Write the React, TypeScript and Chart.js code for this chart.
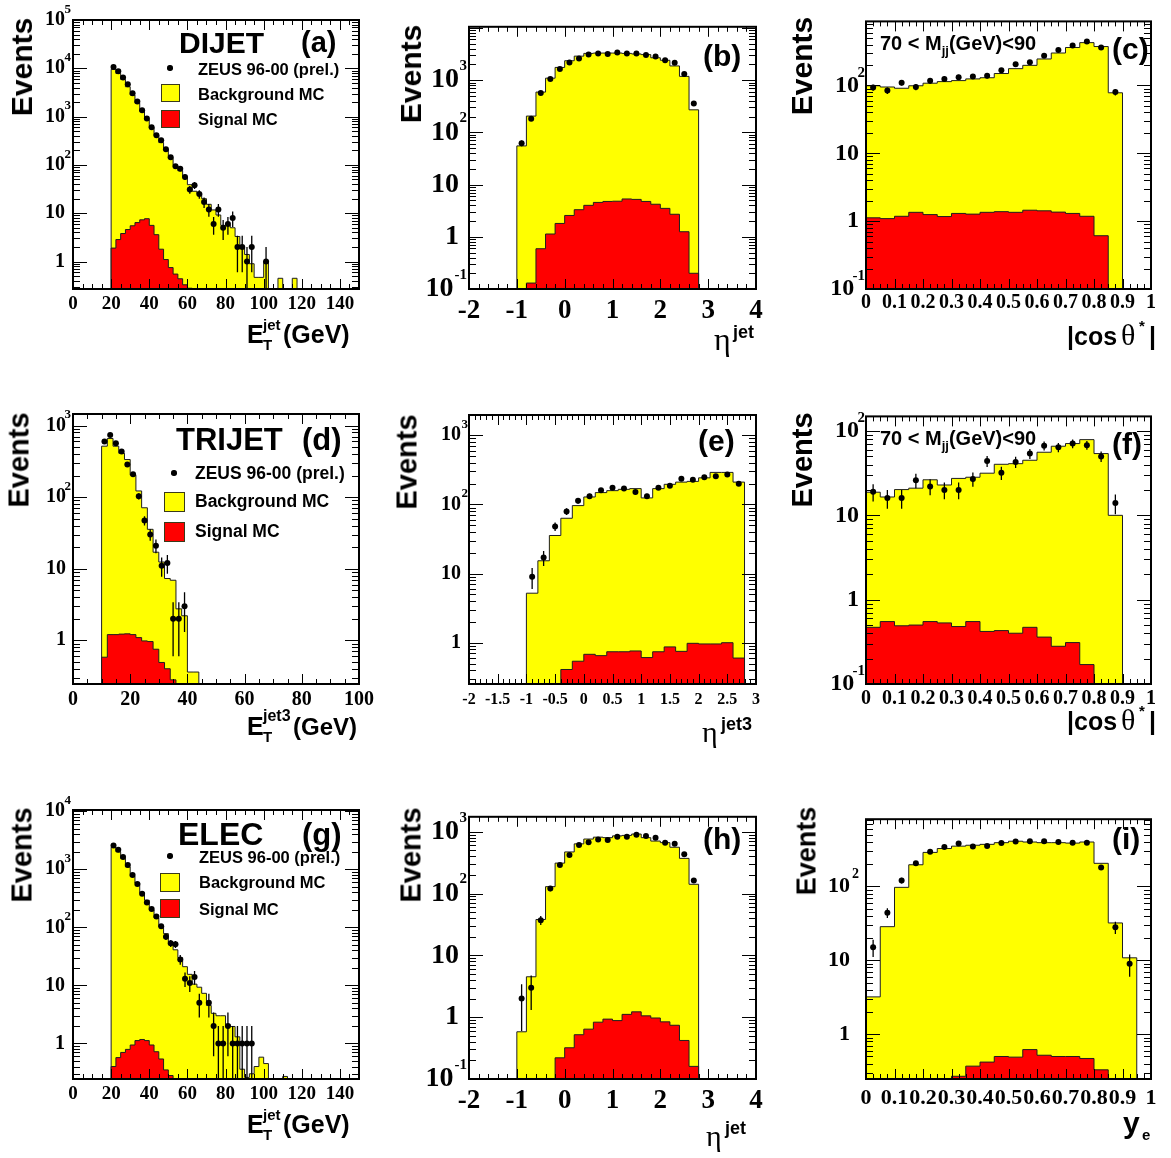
import React, { useEffect, useRef } from 'react';
import { Chart, registerables } from 'chart.js';

Chart.register(...registerables);

const SANS = '"Liberation Sans", Arial, Helvetica, sans-serif';
const SERIF = '"Liberation Serif", "Times New Roman", Times, serif';
const YELLOW = '#ffff00';
const RED = '#ff0000';
const OUTLINE = '#1e1e1e';

// ---------------- (a) DIJET, E_T^jet ----------------
const dijetEtBinStart = 20;
const dijetEtBinWidth = 2.5;
const dijetEtData = [10700, 8700, 6450, 4650, 3040, 2050, 1350, 910, 605, 410, 324, 212, 144, 94, 83, 56, 31, 38, 25, 17, 12, 6, 12, 5, 6, 8, 2, 2, 1, 2, 0, 0, 1];
const dijetEtErr = [103, 93, 80, 68, 55, 45, 37, 30, 25, 20, 18, 15, 12, 10, 9, 7.5, 5.6, 6.2, 5, 4.1, 3.5, 2.4, 3.5, 2.2, 2.4, 2.8, 1.4, 1.4, 1, 1.4, 0, 0, 1];
const dijetEtBackground = [9500, 7800, 5900, 4150, 2800, 1900, 1280, 870, 590, 410, 290, 203, 137, 97, 76, 56, 39, 28.5, 25.6, 20, 15.3, 11.7, 9.2, 5.6, 5.6, 5.0, 3.3, 2.0, 1.4, 0.9, 0.47, 0.47, 1.0, 0, 0, 0.45, 0, 0, 0.45];
const dijetEtSignal = [1.9, 2.85, 3.8, 4.6, 5.5, 6.4, 7.3, 7.7, 5.6, 3.6, 1.8, 1.1, 0.75, 0.55, 0.44, 0.33, 0.28];

// ---------------- (b) DIJET, eta^jet ----------------
const dijetEtaBinStart = -1;
const dijetEtaBinWidth = 0.2;
const dijetEtaData = [62, 182, 565, 1050, 1630, 2180, 2600, 3080, 3250, 3170, 3380, 3250, 3250, 3030, 2830, 2400, 2140, 1310, 358];
const dijetEtaErr = [7.9, 13.5, 24, 32, 40, 47, 51, 55, 57, 56, 58, 57, 57, 55, 53, 49, 46, 36, 19];
const dijetEtaBackground = [55, 205, 590, 1090, 1750, 2350, 2880, 3250, 3300, 3300, 3300, 3250, 3170, 3080, 2680, 2400, 1870, 1180, 270];
const dijetEtaSignal = [0, 0.13, 0.59, 1.13, 1.8, 2.56, 3.3, 4.0, 4.55, 4.75, 4.8, 5.3, 5.2, 4.75, 4.2, 3.5, 2.7, 1.25, 0.2];

// ---------------- (c) DIJET, |cos theta*| ----------------
const dijetCosBinStart = 0;
const dijetCosBinWidth = 0.05;
const dijetCosData = [93, 84, 110, 95, 117, 125, 132, 136, 139, 167, 205, 220, 275, 332, 390, 443, 363, 80];
const dijetCosErr = [9.6, 9.2, 10.5, 9.7, 10.8, 11.2, 11.5, 11.7, 11.8, 12.9, 14.3, 14.8, 16.6, 18.2, 19.7, 21, 19, 8.9];
const dijetCosBackground = [99, 95, 91, 99, 108, 114, 118, 125, 130, 150, 177, 198, 246, 301, 363, 428, 375, 78];
const dijetCosSignal = [1.12, 1.09, 1.18, 1.35, 1.25, 1.17, 1.3, 1.27, 1.35, 1.38, 1.35, 1.45, 1.42, 1.36, 1.3, 1.18, 0.61];

// ---------------- (d) TRIJET, E_T^jet3 ----------------
const trijetEtBinStart = 10;
const trijetEtBinWidth = 2;
const trijetEtData = [600, 740, 565, 435, 285, 208, 103, 47, 30, 21, 11, 12, 2, 2, 3];
const trijetEtErr = [24.5, 27, 24, 21, 17, 14.4, 10, 6.9, 5.5, 4.6, 3.3, 3.5, 1.4, 1.4, 1.7];
const trijetEtBackground = [515, 660, 515, 410, 335, 203, 122, 71, 35.5, 17, 12.4, 7.3, 6.9, 2.75, 2.2, 0.36, 0.36];
const trijetEtSignal = [0.58, 1.2, 1.2, 1.22, 1.23, 1.2, 1.09, 0.98, 0.96, 0.75, 0.49, 0.4, 0.28];

// ---------------- (e) TRIJET, eta^jet3 ----------------
const trijetEtaBinStart = -1;
const trijetEtaBinWidth = 0.2;
const trijetEtaData = [9, 17, 48, 79, 113, 131, 160, 174, 169, 151, 131, 174, 186, 234, 227, 246, 255, 270, 199];
const trijetEtaErr = [3, 4.1, 6.9, 8.9, 10.6, 11.4, 12.6, 13.2, 13, 12.3, 11.4, 13.2, 13.6, 15.3, 15.1, 15.7, 16, 16.4, 14.1];
const trijetEtaBackground = [5.2, 15.3, 35.5, 63, 96, 128, 148, 158, 165, 169, 124, 169, 195, 210, 215, 242, 290, 290, 210];
const trijetEtaSignal = [0, 0, 0, 0.41, 0.54, 0.68, 0.65, 0.74, 0.74, 0.76, 0.61, 0.74, 0.87, 0.75, 0.98, 0.96, 0.96, 1.0, 0.6];

// ---------------- (f) TRIJET, |cos theta*| ----------------
const trijetCosBinStart = 0;
const trijetCosBinWidth = 0.05;
const trijetCosData = [19, 16, 16, 26, 22, 20, 20, 27, 44, 32, 43, 54, 67, 64, 71, 68, 50, 14];
const trijetCosErr = [4.4, 4, 4, 5.1, 4.7, 4.5, 4.5, 5.2, 6.6, 5.7, 6.6, 7.3, 8.2, 8, 8.4, 8.2, 7.1, 3.7];
const trijetCosBackground = [18.8, 16.5, 20.2, 21, 26.4, 22.9, 27.4, 28.3, 31.6, 40.3, 41, 45, 56, 66, 71, 79, 54, 10];
const trijetCosSignal = [0.47, 0.55, 0.49, 0.5, 0.55, 0.53, 0.48, 0.55, 0.42, 0.43, 0.4, 0.47, 0.36, 0.28, 0.31, 0.17];

// ---------------- (g) ELEC, E_T^jet ----------------
const elecEtBinStart = 20;
const elecEtBinWidth = 2.5;
const elecEtData = [2570, 2170, 1630, 1180, 800, 560, 380, 267, 206, 153, 104, 69, 53, 51, 28, 13, 11, 14, 5, 0, 5, 2, 1, 1, 2, 1, 1, 1, 1, 1];
const elecEtErr = [51, 47, 40, 34, 28, 24, 19.5, 16.3, 14.4, 12.4, 10.2, 8.3, 7.3, 7.1, 5.3, 3.6, 3.3, 3.7, 2.2, 0, 2.2, 1.4, 1, 1, 1.4, 1, 1, 1, 1, 1];
const elecEtBackground = [2400, 2000, 1540, 1100, 755, 580, 395, 293, 200, 145, 104, 78, 55, 41, 30, 21, 15.5, 10.5, 9.3, 7.3, 4.5, 3.3, 3.0, 3.0, 2.1, 1.96, 1.3, 0.36, 0.26, 0.3, 0.4, 0.58, 0.45, 0, 0, 0, 0.27];
const elecEtSignal = [0.4, 0.57, 0.7, 0.79, 0.94, 1.12, 1.17, 1.12, 0.94, 0.72, 0.54, 0.35, 0.28];

// ---------------- (h) ELEC, eta^jet ----------------
const elecEtaBinStart = -1;
const elecEtaBinWidth = 0.2;
const elecEtaData = [2, 3, 37, 120, 290, 420, 610, 675, 745, 730, 825, 825, 895, 855, 795, 665, 635, 430, 162];
const elecEtaErr = [1.4, 1.7, 6.1, 11, 17, 20.5, 24.7, 26, 27.3, 27, 28.7, 28.7, 29.9, 29.2, 28.2, 25.8, 25.2, 20.7, 12.7];
const elecEtaBackground = [0.58, 4.5, 38, 129, 310, 470, 635, 760, 815, 800, 855, 870, 915, 800, 705, 665, 560, 370, 141];
const elecEtaSignal = [0, 0, 0, 0, 0.22, 0.32, 0.52, 0.64, 0.83, 0.93, 0.88, 1.11, 1.22, 1.05, 0.97, 0.84, 0.74, 0.42, 0.16];

// ---------------- (i) ELEC, y_e ----------------
const elecYBinStart = 0;
const elecYBinWidth = 0.05;
const elecYData = [15, 44, 120, 205, 295, 340, 380, 347, 352, 385, 405, 408, 408, 398, 390, 390, 180, 28, 9];
const elecYErr = [3.9, 6.6, 11, 14.3, 17.2, 18.4, 19.5, 18.6, 18.8, 19.6, 20.1, 20.2, 20.2, 20, 19.7, 19.7, 13.4, 5.3, 3];
const elecYBackground = [3.2, 28.5, 97, 196, 288, 325, 350, 360, 370, 390, 408, 398, 390, 390, 385, 398, 205, 32, 10.8];
const elecYSignal = [0, 0, 0, 0, 0, 0, 0.27, 0.37, 0.42, 0.5, 0.49, 0.62, 0.52, 0.5, 0.5, 0.47, 0.33];

// ---------------- tick labels ----------------
const etTicks = [0, 20, 40, 60, 80, 100, 120, 140];
const et3Ticks = [0, 20, 40, 60, 80, 100];
const etaTicks = [-2, -1, 0, 1, 2, 3, 4];
const eta3Ticks = [-2, -1.5, -1, -0.5, 0, 0.5, 1, 1.5, 2, 2.5, 3];
const unitTicks = [0, 0.1, 0.2, 0.3, 0.4, 0.5, 0.6, 0.7, 0.8, 0.9, 1];
const decadesA = [1, 10, 100, 1000, 10000, 100000];
const decadesB = [0.1, 1, 10, 100, 1000];
const decadesC = [0.1, 1, 10, 100];
const decadesD = [1, 10, 100, 1000];
const decadesG = [1, 10, 100, 1000, 10000];
const decadesI = [1, 10, 100];

type Cfg = {
  id: string;
  cell: number[];
  plot: number[];
  xMin: number; xMax: number; yMin: number; yMax: number;
  binStart: number; binWidth: number;
  data: number[]; err: number[]; bg: number[]; sig: number[];
  xTicks: number[]; xMinor: number; xFont: number; xPad: number;
  yTicks: number[]; yFont: number; yPad: number; expFont: number; expRight: number;
};

const COLS = [[0, 390], [390, 780], [780, 1171]];
const ROWS = [[0, 395], [395, 790], [790, 1158]];
const PLOT_X = [[73, 359], [469, 756], [866, 1151]];
const PLOT_Y = [[15, 289], [410, 684], [804, 1079]];

function cellOf(c: number, r: number) {
  return [COLS[c][0], ROWS[r][0], COLS[c][1], ROWS[r][1]];
}
function plotOf(c: number, r: number) {
  return [PLOT_X[c][0], PLOT_Y[r][0], PLOT_X[c][1], PLOT_Y[r][1]];
}

const panels: Cfg[] = [
  { id: 'a', cell: cellOf(0, 0), plot: plotOf(0, 0), xMin: 0, xMax: 150, yMin: 0.27, yMax: 1e5,
    binStart: dijetEtBinStart, binWidth: dijetEtBinWidth, data: dijetEtData, err: dijetEtErr, bg: dijetEtBackground, sig: dijetEtSignal,
    xTicks: etTicks, xMinor: 5, xFont: 19, xPad: 4, yTicks: decadesA, yFont: 20, yPad: 8, expFont: 13, expRight: 1 },
  { id: 'b', cell: cellOf(1, 0), plot: plotOf(1, 0), xMin: -2, xMax: 4, yMin: 0.1, yMax: 1.05e4,
    binStart: dijetEtaBinStart, binWidth: dijetEtaBinWidth, data: dijetEtaData, err: dijetEtaErr, bg: dijetEtaBackground, sig: dijetEtaSignal,
    xTicks: etaTicks, xMinor: 0.2, xFont: 27, xPad: 6, yTicks: decadesB, yFont: 28, yPad: 10, expFont: 15, expRight: 1 },
  { id: 'c', cell: cellOf(2, 0), plot: plotOf(2, 0), xMin: 0, xMax: 1, yMin: 0.1, yMax: 880,
    binStart: dijetCosBinStart, binWidth: dijetCosBinWidth, data: dijetCosData, err: dijetCosErr, bg: dijetCosBackground, sig: dijetCosSignal,
    xTicks: unitTicks, xMinor: 0.025, xFont: 20, xPad: 2, yTicks: decadesC, yFont: 24, yPad: 7, expFont: 15, expRight: 0 },
  { id: 'd', cell: cellOf(0, 1), plot: plotOf(0, 1), xMin: 0, xMax: 100, yMin: 0.245, yMax: 1450,
    binStart: trijetEtBinStart, binWidth: trijetEtBinWidth, data: trijetEtData, err: trijetEtErr, bg: trijetEtBackground, sig: trijetEtSignal,
    xTicks: et3Ticks, xMinor: 5, xFont: 20, xPad: 4, yTicks: decadesD, yFont: 20, yPad: 7, expFont: 13, expRight: 1 },
  { id: 'e', cell: cellOf(1, 1), plot: plotOf(1, 1), xMin: -2, xMax: 3, yMin: 0.253, yMax: 1960,
    binStart: trijetEtaBinStart, binWidth: trijetEtaBinWidth, data: trijetEtaData, err: trijetEtaErr, bg: trijetEtaBackground, sig: trijetEtaSignal,
    xTicks: eta3Ticks, xMinor: 0.1, xFont: 16, xPad: 6, yTicks: decadesD, yFont: 20, yPad: 8, expFont: 13, expRight: 0 },
  { id: 'f', cell: cellOf(2, 1), plot: plotOf(2, 1), xMin: 0, xMax: 1, yMin: 0.1, yMax: 149,
    binStart: trijetCosBinStart, binWidth: trijetCosBinWidth, data: trijetCosData, err: trijetCosErr, bg: trijetCosBackground, sig: trijetCosSignal,
    xTicks: unitTicks, xMinor: 0.025, xFont: 20, xPad: 3, yTicks: decadesC, yFont: 24, yPad: 7, expFont: 15, expRight: 0 },
  { id: 'g', cell: cellOf(0, 2), plot: plotOf(0, 2), xMin: 0, xMax: 150, yMin: 0.244, yMax: 1.05e4,
    binStart: elecEtBinStart, binWidth: elecEtBinWidth, data: elecEtData, err: elecEtErr, bg: elecEtBackground, sig: elecEtSignal,
    xTicks: etTicks, xMinor: 5, xFont: 19, xPad: 4, yTicks: decadesG, yFont: 20, yPad: 8, expFont: 13, expRight: 1 },
  { id: 'h', cell: cellOf(1, 2), plot: plotOf(1, 2), xMin: -2, xMax: 4, yMin: 0.1, yMax: 1740,
    binStart: elecEtaBinStart, binWidth: elecEtaBinWidth, data: elecEtaData, err: elecEtaErr, bg: elecEtaBackground, sig: elecEtaSignal,
    xTicks: etaTicks, xMinor: 0.2, xFont: 27, xPad: 6, yTicks: decadesB, yFont: 28, yPad: 10, expFont: 15, expRight: 1 },
  { id: 'i', cell: cellOf(2, 2), plot: plotOf(2, 2), xMin: 0, xMax: 1, yMin: 0.248, yMax: 810,
    binStart: elecYBinStart, binWidth: elecYBinWidth, data: elecYData, err: elecYErr, bg: elecYBackground, sig: elecYSignal,
    xTicks: unitTicks, xMinor: 0.025, xFont: 22, xPad: 6, yTicks: decadesI, yFont: 22, yPad: 16, expFont: 14, expRight: 6 },
];

function decadeExp(v: number) {
  return Math.round(Math.log10(v));
}
// mantissa part is the Chart.js tick label; the exponent is drawn by the rootAxes plugin
function decadeLabel(v: number) {
  const e = decadeExp(v);
  if (e === 0) return '1';
  if (e < 0) return '10\u2009';
  return '10';
}

function histogramPoints(start: number, width: number, values: number[], floor: number) {
  const pts = [{ x: start, y: floor }];
  values.forEach((v, i) => pts.push({ x: start + i * width, y: v > 0 ? v : floor }));
  const end = start + values.length * width;
  const last = values[values.length - 1];
  pts.push({ x: end, y: last > 0 ? last : floor });
  pts.push({ x: end, y: floor });
  return pts;
}

const rootAxesPlugin = {
  id: 'rootAxes',
  afterDraw(chart: any, _args: any, opts: any) {
    const { ctx, chartArea: a, scales } = chart;
    const xs = scales.x;
    const ys = scales.y;
    ctx.save();
    ctx.strokeStyle = '#000';
    ctx.lineWidth = 1;
    ctx.beginPath();
    const n = Math.round((opts.xMax - opts.xMin) / opts.xMinor);
    for (let i = 0; i <= n; i++) {
      const v = opts.xMin + i * opts.xMinor;
      const isMajor = opts.xTicks.some((m: number) => Math.abs(m - v) < 1e-6);
      const len = isMajor ? 10 : 5;
      const px = Math.round(xs.getPixelForValue(v)) + 0.5;
      ctx.moveTo(px, a.bottom);
      ctx.lineTo(px, a.bottom - len);
      ctx.moveTo(px, a.top);
      ctx.lineTo(px, a.top + len);
    }
    const d0 = Math.floor(Math.log10(opts.yMin));
    const d1 = Math.ceil(Math.log10(opts.yMax));
    for (let d = d0; d <= d1; d++) {
      for (let k = 1; k <= 9; k++) {
        const v = k * Math.pow(10, d);
        if (v < opts.yMin * 0.999 || v > opts.yMax * 1.001) continue;
        const py = Math.round(ys.getPixelForValue(v)) + 0.5;
        const len = k === 1 ? 14 : 7;
        ctx.moveTo(a.left, py);
        ctx.lineTo(a.left + len, py);
        ctx.moveTo(a.right, py);
        ctx.lineTo(a.right - len, py);
      }
    }
    ctx.stroke();
    ctx.lineWidth = 2;
    ctx.strokeRect(a.left, a.top, a.right - a.left, a.bottom - a.top);

    // exponents of the decade labels (10^n)
    ctx.fillStyle = '#000';
    ctx.font = `bold ${opts.expFont}px ${SERIF}`;
    ctx.textAlign = 'right';
    ctx.textBaseline = 'alphabetic';
    const xRight = a.left - opts.expRight - 1;
    for (const v of opts.yTicks) {
      const e = decadeExp(v);
      if (e === 0 || e === 1) continue;
      const py = ys.getPixelForValue(v);
      ctx.fillText(String(e), xRight, py - 0.36 * opts.yFont);
    }
    ctx.restore();
  },
};

const errBarPlugin = {
  id: 'errBars',
  afterDatasetsDraw(chart: any, _args: any, opts: any) {
    const { ctx, chartArea: a, scales } = chart;
    const xs = scales.x;
    const ys = scales.y;
    ctx.save();
    ctx.beginPath();
    ctx.rect(a.left, a.top, a.right - a.left, a.bottom - a.top);
    ctx.clip();
    ctx.strokeStyle = '#000';
    ctx.lineWidth = 1.3;
    ctx.beginPath();
    for (const p of opts.points) {
      if (!(p.e > 0)) continue;
      const px = xs.getPixelForValue(p.x);
      const lo = p.y - p.e;
      const pyLo = lo > 0 ? ys.getPixelForValue(lo) : a.bottom + 5;
      const pyHi = ys.getPixelForValue(p.y + p.e);
      ctx.moveTo(px, pyLo);
      ctx.lineTo(px, pyHi);
    }
    ctx.stroke();
    ctx.restore();
  },
};

function makeConfig(c: Cfg): any {
  const floor = c.yMin * 1e-3;
  const points = c.data
    .map((v, i) => ({ x: c.binStart + (i + 0.5) * c.binWidth, y: v, e: c.err[i] }))
    .filter((p) => p.y > 0);
  const [cl, ct, cr, cb] = c.cell;
  const [pl, pt, pr, pb] = c.plot;
  return {
    type: 'line',
    data: {
      datasets: [
        {
          label: 'ZEUS 96-00 (prel.)',
          data: points.map((p) => ({ x: p.x, y: p.y })),
          showLine: false,
          pointRadius: 3,
          pointBackgroundColor: '#000',
          pointBorderColor: '#000',
          pointBorderWidth: 0,
          borderColor: '#000',
          backgroundColor: '#000',
        },
        {
          label: 'Signal MC',
          data: histogramPoints(c.binStart, c.binWidth, c.sig, floor),
          stepped: true,
          fill: 'start',
          backgroundColor: RED,
          borderColor: OUTLINE,
          borderWidth: 1,
          pointRadius: 0,
        },
        {
          label: 'Background MC',
          data: histogramPoints(c.binStart, c.binWidth, c.bg, floor),
          stepped: true,
          fill: 'start',
          backgroundColor: YELLOW,
          borderColor: OUTLINE,
          borderWidth: 1,
          pointRadius: 0,
        },
      ],
    },
    options: {
      responsive: false,
      animation: false,
      devicePixelRatio: 1,
      events: [],
      layout: { padding: { left: 0, top: pt - ct, right: cr - pr, bottom: 0 } },
      plugins: {
        legend: { display: false },
        tooltip: { enabled: false },
        rootAxes: {
          xMin: c.xMin, xMax: c.xMax, xMinor: c.xMinor, xTicks: c.xTicks,
          yMin: c.yMin, yMax: c.yMax, yTicks: c.yTicks, yFont: c.yFont, expFont: c.expFont, expRight: c.expRight,
        },
        errBars: { points },
      },
      scales: {
        x: {
          type: 'linear',
          min: c.xMin,
          max: c.xMax,
          grid: { display: false, drawTicks: false, tickLength: 0 },
          border: { display: false },
          ticks: {
            autoSkip: false,
            maxRotation: 0,
            minRotation: 0,
            padding: c.xPad,
            color: '#000',
            font: { family: SERIF, weight: 'bold', size: c.xFont },
            callback: (v: number) => String(v),
          },
          afterBuildTicks: (s: any) => {
            s.ticks = c.xTicks.map((v) => ({ value: v }));
          },
          afterFit: (s: any) => {
            s.height = cb - pb;
          },
        },
        y: {
          type: 'logarithmic',
          min: c.yMin,
          max: c.yMax,
          grid: { display: false, drawTicks: false, tickLength: 0 },
          border: { display: false },
          ticks: {
            autoSkip: false,
            padding: c.yPad,
            color: '#000',
            font: { family: SERIF, weight: 'bold', size: c.yFont },
            callback: (v: number) => decadeLabel(v),
          },
          afterBuildTicks: (s: any) => {
            s.ticks = c.yTicks.map((v) => ({ value: v }));
          },
          afterFit: (s: any) => {
            s.width = pl - cl;
          },
        },
      },
    },
    plugins: [rootAxesPlugin, errBarPlugin],
  };
}

function Panel({ cfg }: { cfg: Cfg }) {
  const ref = useRef<HTMLCanvasElement>(null);
  useEffect(() => {
    if (!ref.current) return;
    const chart = new Chart(ref.current, makeConfig(cfg));
    return () => chart.destroy();
  }, [cfg]);
  const [cl, ct, cr, cb] = cfg.cell;
  return (
    <canvas
      ref={ref}
      width={cr - cl}
      height={cb - ct}
      style={{ position: 'absolute', left: cl, top: ct, width: cr - cl, height: cb - ct }}
    />
  );
}

function Txt({ x, y, size, children, family = SANS, weight = 700 }: any) {
  return (
    <div
      style={{
        position: 'absolute',
        left: x,
        top: y - size * 0.85,
        fontFamily: family,
        fontWeight: weight,
        fontSize: size,
        lineHeight: `${size}px`,
        whiteSpace: 'nowrap',
        color: '#000',
      }}
    >
      {children}
    </div>
  );
}

function Events({ cx, cy, size }: { cx: number; cy: number; size: number }) {
  return (
    <div
      style={{
        position: 'absolute',
        left: cx,
        top: cy,
        transform: 'translate(-50%, -50%) rotate(-90deg)',
        fontFamily: SANS,
        fontWeight: 700,
        fontSize: size,
        lineHeight: `${size}px`,
        whiteSpace: 'nowrap',
        color: '#000',
      }}
    >
      Events
    </div>
  );
}

function Box({ x, y, w, h, color }: any) {
  return (
    <div
      style={{
        position: 'absolute',
        left: x,
        top: y,
        width: w,
        height: h,
        boxSizing: 'border-box',
        background: color,
        border: '1px solid #3a3a1a',
      }}
    />
  );
}

function Dot({ cx, cy, r }: any) {
  return (
    <div
      style={{
        position: 'absolute',
        left: cx - r,
        top: cy - r,
        width: 2 * r,
        height: 2 * r,
        borderRadius: '50%',
        background: '#000',
      }}
    />
  );
}

function Legend({ dot, x, base, boxX, boxW, boxH, yBox, rBox, size }: any) {
  return (
    <>
      <Dot cx={dot[0]} cy={dot[1]} r={2.7} />
      <Txt x={x} y={base[0]} size={size}>ZEUS 96-00 (prel.)</Txt>
      <Box x={boxX} y={yBox} w={boxW} h={boxH} color={YELLOW} />
      <Txt x={x} y={base[1]} size={size}>Background MC</Txt>
      <Box x={boxX} y={rBox} w={boxW} h={boxH} color={RED} />
      <Txt x={x} y={base[2]} size={size}>Signal MC</Txt>
    </>
  );
}

function EtTitle({ y, sup }: { y: number; sup: string }) {
  const long = sup.length > 3;
  return (
    <>
      <Txt x={247} y={y} size={25}>E</Txt>
      <Txt x={263} y={y - 13} size={long ? 16 : 15}>{sup}</Txt>
      <Txt x={263} y={y + 7} size={15}>T</Txt>
      <Txt x={long ? 293 : 283} y={y} size={long ? 24 : 25}>(GeV)</Txt>
    </>
  );
}

function EtaTitle({ x, y, size, sup }: any) {
  return (
    <>
      <Txt x={x} y={y} size={size} family={SERIF} weight={400}>η</Txt>
      <Txt x={x + 19} y={y - 12} size={18}>{sup}</Txt>
    </>
  );
}

function CosTitle({ y }: { y: number }) {
  return (
    <>
      <Txt x={1067} y={y} size={25}>|cos</Txt>
      <Txt x={1121} y={y} size={30} family={SERIF} weight={400}>θ</Txt>
      <Txt x={1139} y={y - 14} size={15}>*</Txt>
      <Txt x={1149} y={y} size={25}>|</Txt>
    </>
  );
}

function MassCut({ y }: { y: number }) {
  return (
    <Txt x={880} y={y} size={20}>
      70 &lt; M<span style={{ fontSize: 13, position: 'relative', top: 5 }}>jj</span>(GeV)&lt;90
    </Txt>
  );
}

export default function App() {
  return (
    <div style={{ position: 'absolute', left: 0, top: 0, width: 1171, height: 1158, background: '#fff', overflow: 'hidden' }}>
      {panels.map((p) => (
        <Panel key={p.id} cfg={p} />
      ))}

      <Events cx={22} cy={67} size={30} />
      <Events cx={411} cy={74} size={30} />
      <Events cx={802} cy={66} size={30} />
      <Events cx={19} cy={460} size={29} />
      <Events cx={407} cy={462} size={29} />
      <Events cx={802} cy={460} size={29} />
      <Events cx={22} cy={855} size={29} />
      <Events cx={411} cy={855} size={29} />
      <Events cx={807} cy={851} size={27} />

      {/* panel (a) */}
      <Txt x={179} y={53} size={30}>DIJET</Txt>
      <Txt x={301} y={53} size={29}>(a)</Txt>
      <Legend dot={[170, 68]} x={198} base={[75, 100, 125]} boxX={161} boxW={19} boxH={18} yBox={84} rBox={110} size={16.5} />
      <EtTitle y={343} sup="jet" />

      {/* panel (b) */}
      <Txt x={703} y={66} size={30}>(b)</Txt>
      <EtaTitle x={714} y={350} size={32} sup="jet" />

      {/* panel (c) */}
      <MassCut y={50} />
      <Txt x={1112} y={59} size={30}>(c)</Txt>
      <CosTitle y={345} />

      {/* panel (d) */}
      <Txt x={176} y={450} size={31}>TRIJET</Txt>
      <Txt x={302} y={450} size={31}>(d)</Txt>
      <Legend dot={[174, 473]} x={195} base={[480, 508, 538]} boxX={164} boxW={21} boxH={20} yBox={492} rBox={522} size={17.5} />
      <EtTitle y={735} sup="jet3" />

      {/* panel (e) */}
      <Txt x={698} y={451} size={30}>(e)</Txt>
      <EtaTitle x={702} y={742} size={30} sup="jet3" />

      {/* panel (f) */}
      <MassCut y={445} />
      <Txt x={1112} y={454} size={30}>(f)</Txt>
      <CosTitle y={730} />

      {/* panel (g) */}
      <Txt x={178} y={845} size={32}>ELEC</Txt>
      <Txt x={302} y={845} size={31}>(g)</Txt>
      <Legend dot={[170, 856]} x={199} base={[863, 888, 915]} boxX={160} boxW={20} boxH={19} yBox={873} rBox={899} size={16.5} />
      <EtTitle y={1133} sup="jet" />

      {/* panel (h) */}
      <Txt x={703} y={849} size={30}>(h)</Txt>
      <EtaTitle x={706} y={1146} size={30} sup="jet" />

      {/* panel (i) */}
      <Txt x={1112} y={849} size={30}>(i)</Txt>
      <Txt x={1123} y={1133} size={30}>y</Txt>
      <Txt x={1142} y={1140} size={15}>e</Txt>
    </div>
  );
}
